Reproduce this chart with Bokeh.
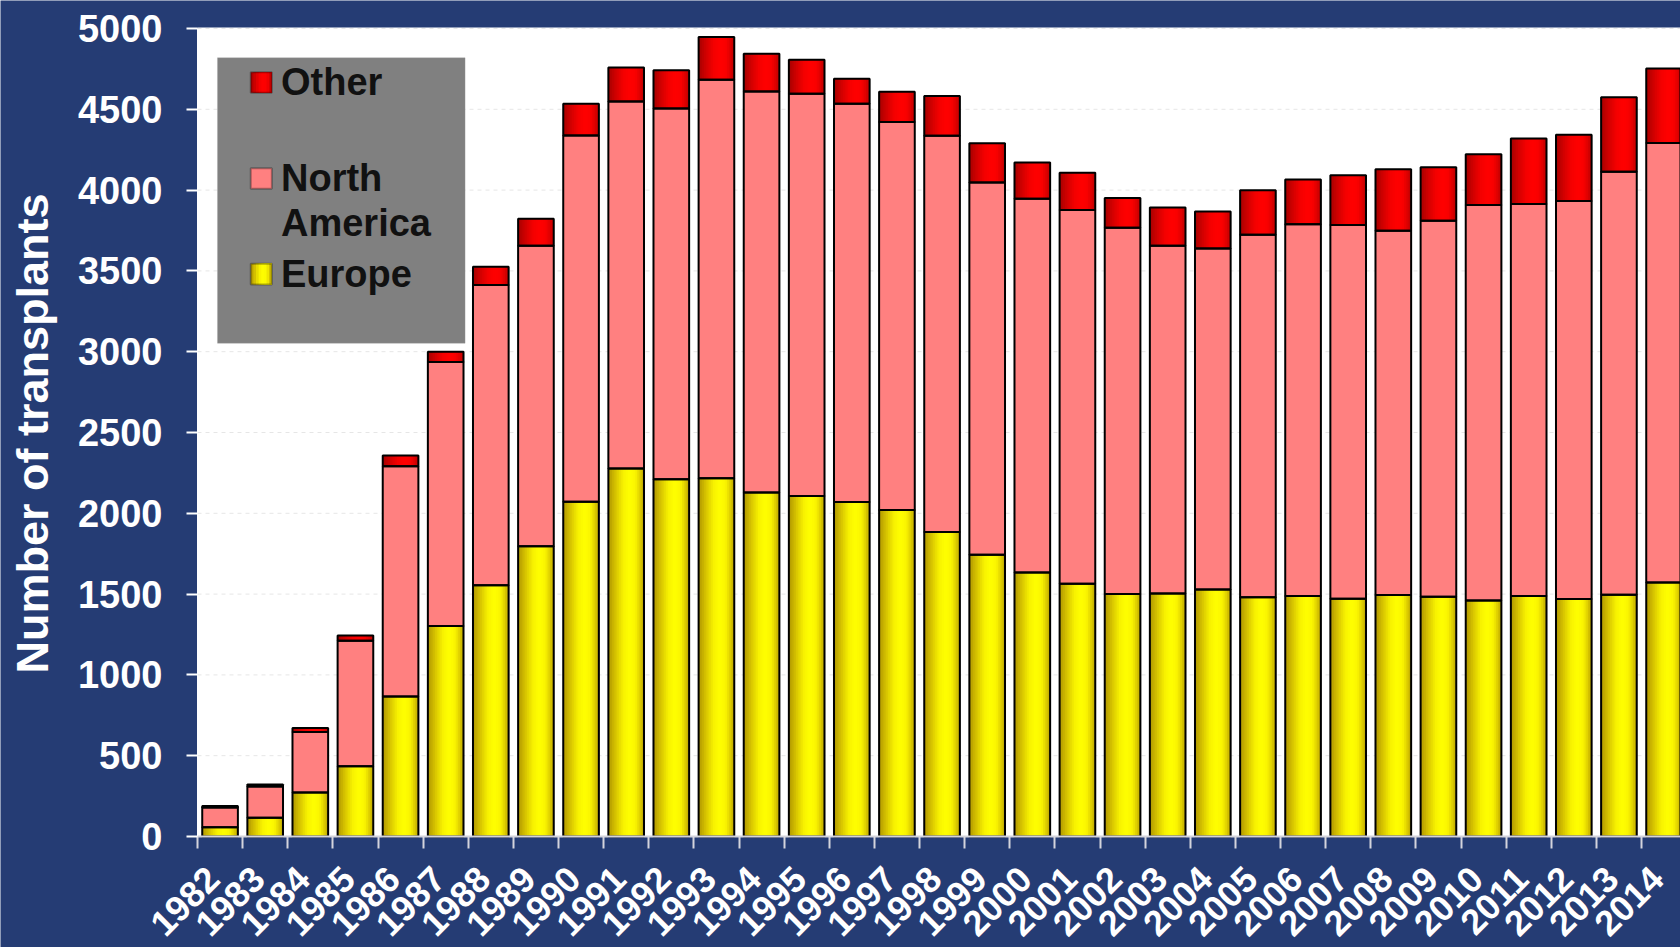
import numpy as np
from bokeh.plotting import figure
from bokeh.models import (ColumnDataSource, Range1d, FixedTicker,
                          CustomJSTickFormatter, BoxAnnotation, Label)
from bokeh.transform import dodge
from bokeh.embed import file_html
from bokeh.resources import INLINE

# ---------------- data ----------------
years = [str(y) for y in range(1982, 2015)]
europe = [58, 116, 272, 434, 866, 1302, 1554, 1796, 2072, 2277, 2211, 2217,
          2128, 2107, 2070, 2021, 1884, 1744, 1634, 1564, 1500, 1504, 1529,
          1480, 1488, 1471, 1494, 1484, 1461, 1488, 1469, 1496, 1572]
north_america = [122, 194, 374, 777, 1425, 1635, 1859, 1860, 2266, 2271, 2294,
                 2466, 2482, 2489, 2464, 2401, 2452, 2303, 2313, 2313, 2267,
                 2152, 2109, 2244, 2301, 2313, 2255, 2327, 2447, 2426, 2464,
                 2617, 2720]
other = [8, 12, 25, 33, 66, 62, 113, 167, 196, 211, 236, 264, 234, 211, 155,
         186, 246, 243, 224, 230, 184, 236, 229, 275, 276, 308, 380, 331, 314,
         405, 409, 462, 461]
y_ticks = list(range(0, 5001, 500))
y_title = "Number of transplants"

# ---------------- styling ----------------
BG = "#253C74"
FONT = "Liberation Sans"
BW = 0.79
NSTRIP = 20
yellow_stops = [(0.0, "#b09600"), (0.2, "#d6c300"), (0.42, "#f8f200"),
                (0.6, "#ffff00"), (0.76, "#faf500"), (0.9, "#dccb00"),
                (1.0, "#b8a000")]
red_stops = [(0.0, "#a60000"), (0.2, "#cf0000"), (0.42, "#f40000"),
             (0.6, "#ff0000"), (0.76, "#fa0000"), (0.9, "#db0000"),
             (1.0, "#b80000")]
PINK = "#ff8080"


def interp(stops, t):
    for (t0, c0), (t1, c1) in zip(stops[:-1], stops[1:]):
        if t0 <= t <= t1:
            f = (t - t0) / (t1 - t0) if t1 > t0 else 0
            a = [int(c0[i:i + 2], 16) for i in (1, 3, 5)]
            b = [int(c1[i:i + 2], 16) for i in (1, 3, 5)]
            m = [round(a[j] + (b[j] - a[j]) * f) for j in range(3)]
            return "#%02x%02x%02x" % tuple(m)
    return stops[-1][1]


n = len(years)
xc = np.arange(n) + 0.5
e_top = np.array(europe, dtype=float)
na_top = e_top + np.array(north_america, dtype=float)
o_top = na_top + np.array(other, dtype=float)

src = ColumnDataSource(dict(x=xc, zero=np.zeros(n), e_top=e_top,
                            na_top=na_top, o_top=o_top, year=years))

# The frame covers the whole canvas so that the axis texts (drawn at fixed
# locations) are never clipped; the plotting area is painted white.
W, H = 1680, 947
PX_X = 45.125          # pixels per category
PX_Y = 808 / 5000      # pixels per transplant
X0_PX, Y0_PX = 197, 836
x_range = Range1d(-X0_PX / PX_X, (W - X0_PX) / PX_X)
y_range = Range1d(-(H - Y0_PX) / PX_Y, Y0_PX / PX_Y)

p = figure(width=W, height=H, x_range=x_range, y_range=y_range,
           output_backend="svg", toolbar_location=None,
           min_border_left=0, min_border_right=0,
           min_border_top=0, min_border_bottom=0)
p.background_fill_color = BG
p.border_fill_color = BG
p.outline_line_color = None
p.xgrid.visible = False
p.ygrid.visible = False

p.add_layout(BoxAnnotation(left=0, bottom=0, top=5006, fill_color="white",
                           fill_alpha=1.0, line_color=None, level="underlay"))

# horizontal grid lines inside the plotting area
grid_y = y_ticks[1:]
p.segment(x0=[0] * len(grid_y), x1=[x_range.end] * len(grid_y),
          y0=grid_y, y1=grid_y, line_color="#e6e6e6", line_dash="4 4",
          line_width=1)

# North America (solid pink)
p.vbar(x="x", width=BW, bottom="e_top", top="na_top", source=src,
       fill_color=PINK, line_color=None)

# cylinder-like gradient for Europe and Other: layered strips, each running
# from its own left edge to the bar's right edge (no seams)
sw = BW / NSTRIP
for k in range(NSTRIP):
    t = (k + 0.5) / NSTRIP
    left = -BW / 2 + k * sw
    right = BW / 2
    off = (left + right) / 2
    wdt = right - left
    p.vbar(x=dodge("x", off), width=wdt, bottom="zero", top="e_top",
           source=src, fill_color=interp(yellow_stops, t), line_color=None)
    p.vbar(x=dodge("x", off), width=wdt, bottom="na_top", top="o_top",
           source=src, fill_color=interp(red_stops, t), line_color=None)

# outlines
for b, t in (("zero", "e_top"), ("e_top", "na_top"), ("na_top", "o_top")):
    p.vbar(x="x", width=BW, bottom=b, top=t, source=src,
           fill_color=None, line_color="black", line_width=2)

# y axis
p.yaxis.fixed_location = 0
p.yaxis.bounds = (0, 5000)
p.yaxis.ticker = FixedTicker(ticks=y_ticks)
p.yaxis.major_label_text_font = FONT
p.yaxis.major_label_text_font_size = "38px"
p.yaxis.major_label_text_font_style = "bold"
p.yaxis.major_label_text_color = "white"
p.yaxis.major_tick_out = 11
p.yaxis.major_tick_in = 0
p.yaxis.minor_tick_out = 0
p.yaxis.minor_tick_in = 0
p.yaxis.major_tick_line_color = "white"
p.yaxis.major_tick_line_width = 2
p.yaxis.axis_line_color = "white"
p.yaxis.major_label_standoff = 24

p.add_layout(Label(x=-(X0_PX - 32) / PX_X, y=(Y0_PX - 433) / PX_Y,
                   text=y_title, angle=np.pi / 2, text_align="center",
                   text_baseline="middle", text_font=FONT,
                   text_font_size="45px", text_font_style="bold",
                   text_color="white"))

# x axis: ticks at category boundaries, rotated year labels
p.xaxis.fixed_location = 0
p.xaxis.bounds = (0, n)
p.xaxis.ticker = FixedTicker(ticks=list(xc - 0.16),
                             minor_ticks=list(np.arange(n + 1)))
p.xaxis.formatter = CustomJSTickFormatter(
    args=dict(labels=years), code="return labels[Math.floor(tick)];")
p.xaxis.major_tick_out = 0
p.xaxis.major_tick_in = 0
p.xaxis.minor_tick_out = 12
p.xaxis.minor_tick_in = 0
p.xaxis.minor_tick_line_color = "#d4d4dc"
p.xaxis.minor_tick_line_width = 2
p.xaxis.axis_line_color = "#d4d4dc"
p.xaxis.axis_line_width = 2
p.xaxis.major_label_orientation = np.pi / 4
p.xaxis.major_label_text_font = FONT
p.xaxis.major_label_text_font_size = "36px"
p.xaxis.major_label_text_font_style = "bold"
p.xaxis.major_label_text_color = "white"
p.xaxis.major_label_standoff = 24

# legend (drawn manually to match the boxed layout)
p.add_layout(BoxAnnotation(left=0.443, right=5.93, bottom=3052, top=4819,
                           fill_color="#808080", fill_alpha=1.0,
                           line_color="#9a9a9a", line_width=1))
SW_L, SW_R = 1.18, 1.647
swatches = [(red_stops, 4602, 4729), (None, 4008, 4135), (yellow_stops, 3416, 3545)]
NS = 8
for stops, b, t in swatches:
    if stops is None:
        p.add_layout(BoxAnnotation(left=SW_L, right=SW_R, bottom=b, top=t,
                                   fill_color=PINK, fill_alpha=1.0,
                                   line_color=None))
    else:
        for k in range(NS):
            l = SW_L + (SW_R - SW_L) * k / NS
            p.add_layout(BoxAnnotation(left=l, right=SW_R, bottom=b, top=t,
                                       fill_color=interp(stops, (k + 0.5) / NS),
                                       fill_alpha=1.0, line_color=None))
    p.add_layout(BoxAnnotation(left=SW_L, right=SW_R, bottom=b, top=t,
                               fill_alpha=0.0, line_color="black",
                               line_width=2))
label_pos = [("Other", 4666), ("North", 4072), ("America", 3799), ("Europe", 3481)]
for txt, yv in label_pos:
    p.add_layout(Label(x=1.85, y=yv, text=txt, text_font=FONT,
                       text_font_size="38px", text_font_style="bold",
                       text_color="#111111", text_baseline="middle"))

open("out.html", "w").write(file_html(p, INLINE))
